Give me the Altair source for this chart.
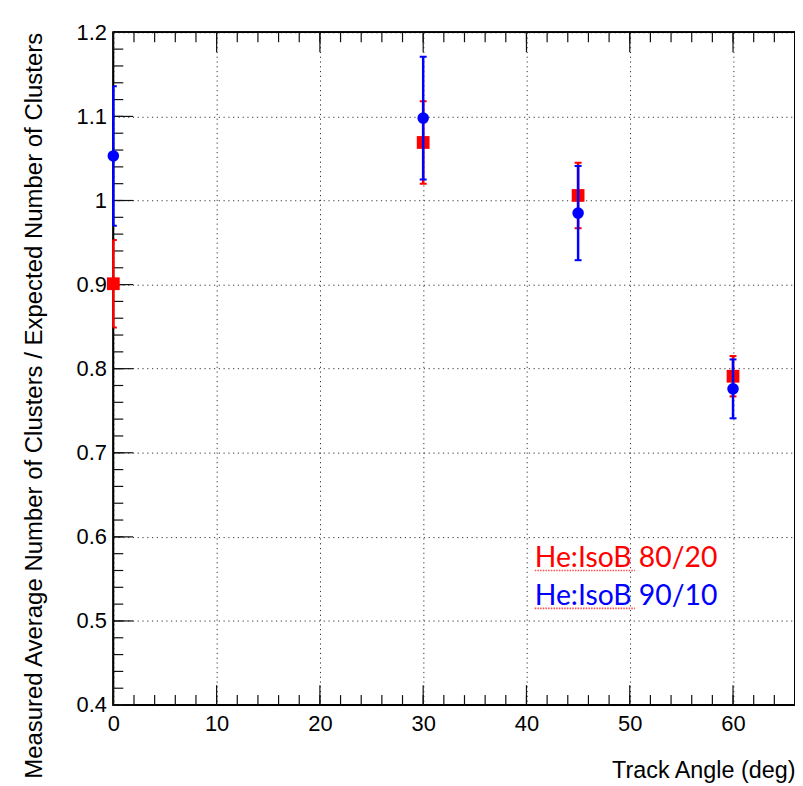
import altair as alt
import pandas as pd

# ---- data ----
angles = [0, 30, 45, 60]
red_name = "He:IsoB 80/20"
red_vals = [0.901, 1.069, 1.006, 0.791]
red_errs = [0.052, 0.049, 0.039, 0.024]
blue_name = "He:IsoB 90/10"
blue_vals = [1.053, 1.098, 0.985, 0.776]
blue_errs = [0.083, 0.073, 0.056, 0.035]

x_major = [0, 10, 20, 30, 40, 50, 60]
x_minor = [v for v in range(0, 66, 2)]
y_major = [0.4, 0.5, 0.6, 0.7, 0.8, 0.9, 1.0, 1.1, 1.2]
y_minor = [round(0.4 + 0.02 * i, 2) for i in range(41)]

legend_labels = [red_name, blue_name]
legend_colors = ["#ff0000", "#0000ff"]
legend_x = [40.8, 40.8]
legend_y = [0.564, 0.519]
# red spell-check underline under "He:IsoB" (start/end angle, level)
underline_x = [40.8, 40.8]
underline_x2 = [50.5, 50.5]
underline_y = [0.560, 0.515]

W, H = 686, 677


def series_df(vals, errs):
    return pd.DataFrame({
        "angle": angles,
        "value": vals,
        "lo": [v - e for v, e in zip(vals, errs)],
        "hi": [v + e for v, e in zip(vals, errs)],
    })


red = series_df(red_vals, red_errs)
blue = series_df(blue_vals, blue_errs)

xs = alt.Scale(domain=[0, 66], nice=False, zero=False)
ys = alt.Scale(domain=[0.4, 1.2], nice=False, zero=False)

label_font = "Liberation Sans"

x_axis = alt.Axis(
    values=x_major, title="Track Angle (deg)", titleAnchor="end",
    titleFont=label_font, titleFontSize=23.5, titleFontWeight="normal",
    titleColor="black", titlePadding=24,
    labelFont=label_font, labelFontSize=22, labelColor="black",
    labelPadding=9, ticks=False, tickSize=0, domain=False,
    grid=True, gridDash=[1.2, 3.6], gridColor="#333", gridWidth=1,
    labelFlush=False,
)
y_axis = alt.Axis(
    values=y_major, format="~g",
    title="Measured Average Number of Clusters / Expected Number of Clusters",
    titleAnchor="end", titleFont=label_font, titleFontSize=24.1,
    titleFontWeight="normal", titleColor="black", titlePadding=30,
    labelFont=label_font, labelFontSize=22, labelColor="black",
    labelPadding=7, ticks=False, tickSize=0, domain=False,
    grid=True, gridDash=[1.2, 3.6], gridColor="#333", gridWidth=1,
    labelFlush=False,
)


def X(field):
    return alt.X(field, type="quantitative", scale=xs, axis=x_axis)


def Y(field):
    return alt.Y(field, type="quantitative", scale=ys, axis=y_axis)


# grid + axes layer (invisible points)
axes_layer = alt.Chart(red).mark_point(opacity=0).encode(
    x=X("angle"), y=Y("value"),
)

# frame
frame = alt.Chart(red).mark_rect(fill=None, stroke="black",
                                 strokeWidth=1.5).encode(
    x=alt.value(0), x2=alt.value(W), y=alt.value(0), y2=alt.value(H),
)

tick_color = "#111"


def yticks(vals, length):
    d = pd.DataFrame({"v": vals})
    return alt.Chart(d).mark_rule(color=tick_color, strokeWidth=1.2).encode(
        y=Y("v"), x=alt.value(0), x2=alt.value(length),
    )


def xticks_bottom(vals, length):
    d = pd.DataFrame({"v": vals})
    return alt.Chart(d).mark_rule(color=tick_color, strokeWidth=1.2).encode(
        x=X("v"), y=alt.value(H), y2=alt.value(H - length),
    )


def xticks_top(vals, length):
    d = pd.DataFrame({"v": vals})
    return alt.Chart(d).mark_rule(color=tick_color, strokeWidth=1.2).encode(
        x=X("v"), y=alt.value(0), y2=alt.value(length),
    )


tick_layers = [
    yticks(y_minor, 10), yticks(y_major, 20),
    xticks_bottom(x_minor, 10), xticks_bottom(x_major, 20),
    xticks_top(x_minor, 10), xticks_top(x_major, 20),
]


def series_layers(df, color, shape, size):
    base = alt.Chart(df)
    bars = base.mark_rule(color=color, strokeWidth=2.5).encode(
        x=X("angle"), y=Y("lo"), y2="hi:Q",
    )
    cap_lo = base.mark_tick(color=color, orient="horizontal", size=7,
                            thickness=2, clip=True, opacity=1).encode(
        x=X("angle"), y=Y("lo"),
    )
    cap_hi = base.mark_tick(color=color, orient="horizontal", size=7,
                            thickness=2, clip=True, opacity=1).encode(
        x=X("angle"), y=Y("hi"),
    )
    pts = base.mark_point(shape=shape, filled=True, size=size, color=color,
                          opacity=1, strokeWidth=0).encode(
        x=X("angle"), y=Y("value"),
    )
    return [bars, cap_lo, cap_hi, pts]


leg_df = pd.DataFrame({
    "label": legend_labels, "color": legend_colors,
    "x": legend_x, "y": legend_y,
    "ux": underline_x, "ux2": underline_x2, "uy": underline_y,
})
legend_text = alt.Chart(leg_df).mark_text(
    font="Lato", fontSize=28.5, align="left", baseline="alphabetic"
).encode(
    x=X("x"), y=Y("y"),
    text="label:N",
    color=alt.Color("color:N", scale=None),
)
underline = alt.Chart(leg_df).mark_rule(
    color="#ff3030", strokeWidth=1.6, strokeDash=[1.5, 1.2], opacity=0.85,
).encode(
    x=X("ux"), x2="ux2:Q", y=Y("uy"),
)

chart = alt.layer(
    axes_layer, frame, *tick_layers,
    *series_layers(red, "#ff0000", "square", 165),
    *series_layers(blue, "#0000ff", "circle", 135),
    underline, legend_text,
).properties(
    width=W, height=H,
    autosize=alt.AutoSizeParams(type="none"),
    padding={"left": 106, "top": 22, "right": 0, "bottom": 78},
    background="white",
).configure_view(stroke=None)

chart.save("out.html", embed_options={"renderer": "svg", "actions": False})
